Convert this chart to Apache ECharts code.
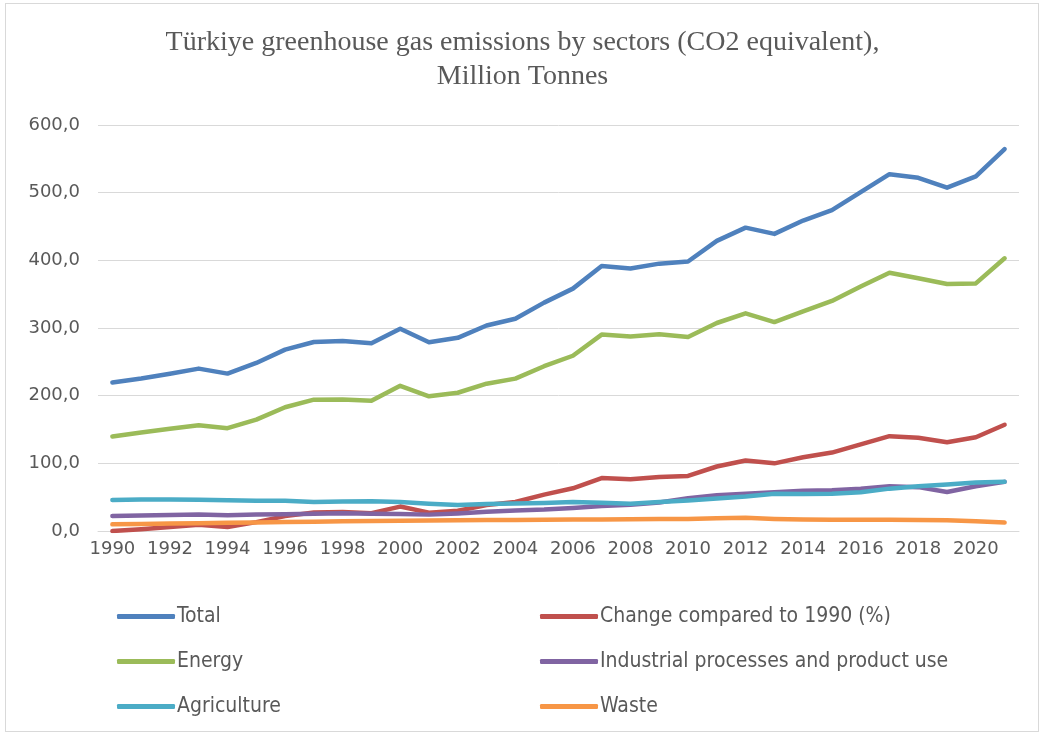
<!DOCTYPE html>
<html>
<head>
<meta charset="utf-8">
<script src="https://cdn.jsdelivr.net/npm/echarts@6/dist/echarts.min.js"></script>
<style>
html,body{margin:0;padding:0;background:#fff;}
#wrap{position:relative;width:1045px;height:738px;}
#frame{position:absolute;left:5px;top:3px;width:1034px;height:729px;border:1px solid #d9d9d9;box-sizing:border-box;pointer-events:none;}
#chart{position:absolute;left:0;top:0;width:1045px;height:738px;}
</style>
</head>
<body>
<div id="wrap"><div id="chart"></div><div id="frame"></div></div>
<script>
const years = ['1990','1991','1992','1993','1994','1995','1996','1997','1998','1999','2000','2001','2002','2003','2004','2005','2006','2007','2008','2009','2010','2011','2012','2013','2014','2015','2016','2017','2018','2019','2020','2021'];
const total = [219.6,225.5,232.5,240.0,232.6,248.3,268.0,279.3,280.9,277.6,298.9,279.0,285.5,303.7,313.7,337.5,358.2,391.6,387.8,395.1,398.3,428.8,448.3,439.1,458.8,474.2,500.8,527.3,521.9,507.4,524.0,564.4];
const change = [0,2.7,5.9,9.3,5.9,13.1,22.0,27.2,27.9,26.4,36.1,27.1,30.0,38.3,42.9,53.7,63.1,78.3,76.6,79.9,81.4,95.3,104.1,100.0,108.9,115.9,128.1,140.1,137.7,131.1,138.6,157.0];
const energy = [139.6,145.7,151.1,156.4,152.0,164.6,182.9,194.1,194.4,192.5,214.5,199.1,204.3,217.7,225.2,243.5,259.0,290.3,287.6,290.9,286.7,307.4,321.7,308.7,324.5,340.0,361.2,381.6,373.6,365.0,365.9,403.0];
const industrial = [22.2,23.0,23.7,24.4,23.4,24.3,24.7,25.5,26.2,25.6,25.0,24.2,26.0,28.4,30.4,31.7,34.1,37.1,38.7,42.1,48.4,52.7,55.1,57.4,59.5,60.2,62.5,66.1,64.8,57.7,66.2,72.6];
const agriculture = [45.9,46.6,46.7,46.3,45.3,44.8,44.7,43.0,43.6,43.9,42.8,40.3,38.3,39.9,40.6,41.5,42.8,41.9,40.3,42.7,44.9,48.0,51.0,55.0,54.6,55.2,57.2,62.6,66.3,68.7,71.5,72.6];
const waste = [9.8,10.4,11.0,11.6,12.1,12.6,13.2,13.8,14.3,14.8,15.3,15.6,15.9,16.2,16.4,16.6,16.9,17.1,17.3,17.6,17.9,19.0,19.5,17.8,17.0,16.8,16.6,16.5,16.4,16.0,14.5,12.5];
const yTicks = [0,100,200,300,400,500,600];
const seriesNames = ['Total','Change compared to 1990 (%)','Energy','Industrial processes and product use','Agriculture','Waste'];
const seriesData = [total, change, energy, industrial, agriculture, waste];
const colors = ['#4F81BD','#C0504D','#9BBB59','#8064A2','#4BACC6','#F79646'];

const chart = echarts.init(document.getElementById('chart'), null, {renderer:'canvas'});
const narrow = "'Liberation Sans Narrow','DejaVu Sans Condensed','Liberation Sans',sans-serif";
const legendCommon = {
  orient:'vertical', itemWidth:58, itemHeight:5, itemGap:20, icon:'roundRect',
  textStyle:{color:'#595959', fontSize:21, fontFamily:narrow, lineHeight:25, padding:[0,0,0,-3]}
};
chart.setOption({
  animation:false,
  backgroundColor:'#fff',
  color: colors,
  title:{
    text:'Türkiye greenhouse gas emissions by sectors (CO2 equivalent),\nMillion Tonnes',
    left:'center', top:21,
    textStyle:{fontFamily:"'Liberation Serif','DejaVu Serif',serif", fontWeight:'normal', fontSize:28, lineHeight:34, color:'#595959'}
  },
  grid:{left:98, right:26, top:125, bottom:207},
  xAxis:{
    type:'category', data:years, boundaryGap:true,
    axisLine:{lineStyle:{color:'#d9d9d9', width:1}},
    axisTick:{show:false},
    axisLabel:{interval:1, color:'#595959', fontSize:18, fontFamily:"'DejaVu Sans',sans-serif", margin:9}
  },
  yAxis:{
    type:'value', min:yTicks[0], max:yTicks[yTicks.length-1], interval:100,
    axisLine:{show:false}, axisTick:{show:false},
    splitLine:{lineStyle:{color:'#d9d9d9', width:1}},
    axisLabel:{color:'#595959', fontSize:18, fontFamily:"'DejaVu Sans',sans-serif", margin:18,
      formatter:v => v.toFixed(1).replace('.', ',')}
  },
  legend:[
    Object.assign({data:[seriesNames[0],seriesNames[2],seriesNames[4]], left:112, top:599}, legendCommon),
    Object.assign({data:[seriesNames[1],seriesNames[3],seriesNames[5]], left:535, top:599}, legendCommon)
  ],
  series: seriesNames.map((n,i)=>({
    name:n, type:'line', data:seriesData[i], showSymbol:false, symbol:'none',
    lineStyle:{width:4.5, color:colors[i], cap:'round', join:'round'},
    itemStyle:{color:colors[i]}
  }))
});
</script>
</body>
</html>
